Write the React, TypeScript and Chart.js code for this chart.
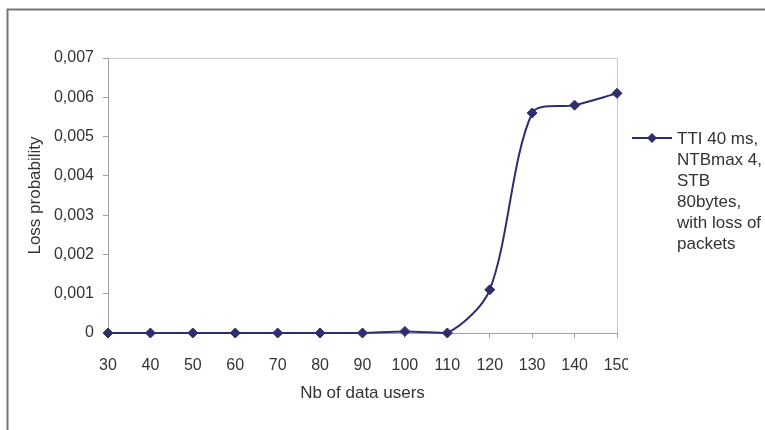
import React, { useEffect, useRef } from 'react';
import { Chart, registerables } from 'chart.js';

Chart.register(...registerables);

const xLabels = ['30', '40', '50', '60', '70', '80', '90', '100', '110', '120', '130', '140', '150'];
const lossValues = [0, 0, 0, 0, 0, 0, 0, 0.00004, 0, 0.0011, 0.0056, 0.0058, 0.0061];
const yMin = 0;
const yMax = 0.007;
const yStep = 0.001;
const legendLines = ['TTI 40 ms,', 'NTBmax 4,', 'STB', '80bytes,', 'with loss of', 'packets'];
const xTitle = 'Nb of data users';
const yTitle = 'Loss probability';

const W = 765;
const H = 430;
const FONT = "'Liberation Sans', Arial, sans-serif";
const SERIES = '#2e2e6c';
const TEXT = '#333333';
const AXIS = '#a0a0a0';

export default function App() {
  const ref = useRef<HTMLCanvasElement>(null);

  useEffect(() => {
    if (!ref.current) return;

    const framePlugin = {
      id: 'frame',
      beforeDraw(chart: any) {
        const ctx = chart.ctx;
        const a = chart.chartArea;
        ctx.save();
        ctx.fillStyle = '#ffffff';
        ctx.fillRect(0, 0, W, H);
        ctx.strokeStyle = '#777777';
        ctx.lineWidth = 2;
        ctx.beginPath();
        ctx.moveTo(7.5, H);
        ctx.lineTo(7.5, 9.5);
        ctx.lineTo(W, 9.5);
        ctx.stroke();
        ctx.strokeStyle = '#c8c8c8';
        ctx.lineWidth = 1;
        ctx.beginPath();
        ctx.moveTo(a.left, a.top + 0.5);
        ctx.lineTo(a.right + 0.5, a.top + 0.5);
        ctx.lineTo(a.right + 0.5, a.bottom);
        ctx.stroke();
        ctx.restore();
      },
      afterDraw(chart: any) {
        const ctx = chart.ctx;
        const a = chart.chartArea;
        ctx.save();
        // clip the last x label like the reference (legend box overlaps it)
        ctx.fillStyle = '#ffffff';
        ctx.fillRect(a.right + 11, a.bottom + 8, 30, 30);
        // legend
        const lx = a.right + 15;
        const ly = 138;
        ctx.strokeStyle = SERIES;
        ctx.fillStyle = SERIES;
        ctx.lineWidth = 2;
        ctx.beginPath();
        ctx.moveTo(lx, ly);
        ctx.lineTo(lx + 40, ly);
        ctx.stroke();
        const cx = lx + 20;
        const r = 5;
        ctx.beginPath();
        ctx.moveTo(cx, ly - r);
        ctx.lineTo(cx + r, ly);
        ctx.lineTo(cx, ly + r);
        ctx.lineTo(cx - r, ly);
        ctx.closePath();
        ctx.fill();
        ctx.fillStyle = TEXT;
        ctx.font = `17px ${FONT}`;
        ctx.textBaseline = 'middle';
        ctx.textAlign = 'left';
        legendLines.forEach((t, i) => ctx.fillText(t, lx + 45, ly + 1 + i * 21));
        ctx.restore();
      },
    };

    const chart = new Chart(ref.current, {
      type: 'line',
      data: {
        labels: xLabels,
        datasets: [
          {
            label: legendLines.join(' '),
            data: lossValues,
            borderColor: SERIES,
            backgroundColor: SERIES,
            borderWidth: 2,
            pointStyle: 'rectRot',
            pointRadius: 5,
            pointBackgroundColor: SERIES,
            pointBorderColor: SERIES,
            pointBorderWidth: 1,
            tension: 0.3,
            fill: false,
            clip: false as any,
          },
        ],
      },
      options: {
        responsive: false,
        maintainAspectRatio: false,
        animation: false,
        layout: { padding: { left: 0, top: 58, right: 148, bottom: 0 } },
        plugins: {
          legend: { display: false },
          tooltip: { enabled: false },
        },
        scales: {
          x: {
            type: 'category',
            offset: false,
            ticks: {
              color: TEXT,
              font: { family: FONT, size: 16 },
              padding: 18,
              maxRotation: 0,
              autoSkip: false,
            },
            grid: { drawOnChartArea: false, drawTicks: true, tickLength: 5, color: AXIS },
            border: { display: true, color: AXIS, width: 1 },
            title: {
              display: true,
              text: xTitle,
              color: TEXT,
              font: { family: FONT, size: 17 },
              padding: { top: 0, bottom: 26 },
            },
            afterFit: (s: any) => {
              s.height = 97;
            },
          },
          y: {
            min: yMin,
            max: yMax,
            ticks: {
              stepSize: yStep,
              padding: 9,
              color: TEXT,
              font: { family: FONT, size: 16 },
              callback: (v: any) => (Number(v) === 0 ? '0' : Number(v).toFixed(3).replace('.', ',')),
            },
            grid: { drawOnChartArea: false, drawTicks: true, tickLength: 5, color: AXIS },
            border: { display: true, color: AXIS, width: 1 },
            title: {
              display: true,
              text: yTitle,
              color: TEXT,
              font: { family: FONT, size: 17 },
              padding: { top: 25, bottom: 0 },
            },
            afterFit: (s: any) => {
              s.width = 108;
            },
          },
        },
      },
      plugins: [framePlugin],
    });

    return () => chart.destroy();
  }, []);

  return (
    <div style={{ position: 'absolute', left: 0, top: 0, width: W, height: H }}>
      <canvas ref={ref} width={W} height={H} style={{ display: 'block', width: W, height: H }} />
    </div>
  );
}
